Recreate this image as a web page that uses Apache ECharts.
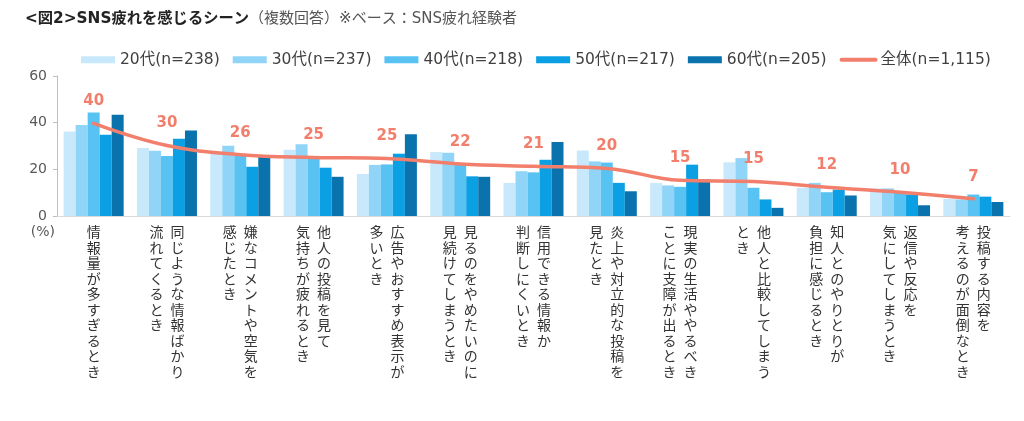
<!DOCTYPE html>
<html>
<head>
<meta charset="utf-8">
<script src="https://cdn.jsdelivr.net/npm/echarts@6/dist/echarts.min.js"></script>
<style>
  html, body { margin: 0; padding: 0; background: #fff; }
  #chart { width: 1024px; height: 421px; }
</style>
</head>
<body>
<div id="chart"></div>
<script>
// カテゴリ（\n で縦書きの列を区切る。最初の列が右側）
const categories = [
  "情報量が多すぎるとき",
  "同じような情報ばかり\n流れてくるとき",
  "嫌なコメントや空気を\n感じたとき",
  "他人の投稿を見て\n気持ちが疲れるとき",
  "広告やおすすめ表示が\n多いとき",
  "見るのをやめたいのに\n見続けてしまうとき",
  "信用できる情報か\n判断しにくいとき",
  "炎上や対立的な投稿を\n見たとき",
  "現実の生活ややるべき\nことに支障が出るとき",
  "他人と比較してしまう\nとき",
  "知人とのやりとりが\n負担に感じるとき",
  "返信や反応を\n気にしてしまうとき",
  "投稿する内容を\n考えるのが面倒なとき",
];

const seriesNames = ["20代(n=238)", "30代(n=237)", "40代(n=218)", "50代(n=217)", "60代(n=205)"];
const totalName = "全体(n=1,115)";

const age20 = [36.2, 29.1, 27.0, 28.4, 18.0, 27.4, 14.2, 28.1, 14.2, 23.0, 12.1, 11.8, 7.4];
const age30 = [39.0, 28.0, 30.1, 30.8, 21.9, 27.1, 19.2, 23.4, 13.1, 24.8, 14.2, 11.8, 7.1];
const age40 = [44.4, 25.7, 25.8, 25.3, 22.1, 22.4, 18.7, 22.9, 12.5, 12.1, 10.2, 9.9, 9.2];
const age50 = [34.8, 33.1, 21.1, 20.7, 26.7, 17.0, 24.1, 14.2, 22.0, 7.1, 11.3, 9.2, 8.3];
const age60 = [43.4, 36.6, 26.1, 16.8, 35.0, 16.8, 31.7, 10.6, 15.6, 3.5, 8.8, 4.6, 6.0];
const total = [39.7, 30.2, 26.3, 25.1, 24.6, 22.3, 21.3, 20.4, 15.3, 14.8, 12.3, 10.2, 7.4];

const yTicks = [0, 20, 40, 60];

const barColors = ["#c8e9fb", "#90d4f7", "#58c3f3", "#0ba0e4", "#0a72ad"];
const lineColor = "#f27e6c";

// 縦書き風に1文字ずつ改行し、複数列は右から左へ並べる
function verticalLabel(value) {
  const cols = value.split("\n").reverse(); // 左の列から順に
  const rows = Math.max(...cols.map((c) => c.length));
  const lines = [];
  for (let i = 0; i < rows; i++) {
    lines.push(cols.map((c) => c[i] || "\u3000").join("\u2002"));
  }
  return lines.join("\n");
}

const chart = echarts.init(document.getElementById("chart"));

const bars = [age20, age30, age40, age50, age60].map((data, i) => ({
  name: seriesNames[i],
  type: "bar",
  barWidth: 12,
  barGap: "0%",
  itemStyle: { color: barColors[i] },
  data: data,
}));

chart.setOption({
  animation: false,
  title: {
    left: 20,
    top: 6,
    text: "{b|<図2>SNS疲れを感じるシーン}{n|（複数回答）※ベース：SNS疲れ経験者}",
    textStyle: {
      rich: {
        b: { fontSize: 15.3, fontWeight: "bold", color: "#222", fontFamily: "DejaVu Sans, Noto Sans CJK JP" },
        n: { fontSize: 15, fontWeight: "normal", color: "#555", fontFamily: "DejaVu Sans, Noto Sans CJK JP" },
      },
    },
  },
  legend: {
    left: 76,
    top: 47,
    itemWidth: 34,
    itemHeight: 7,
    itemGap: 13,
    textStyle: { fontSize: 15.5, color: "#404040", fontFamily: "DejaVu Sans, Noto Sans CJK JP" },
    data: seriesNames
      .map((n) => ({ name: n, icon: "rect" }))
      .concat([{ name: totalName, itemStyle: { opacity: 0 }, lineStyle: { width: 4 } }]),
  },
  grid: {
    left: 57,
    right: 14,
    top: 76,
    bottom: 205,
  },
  xAxis: {
    type: "category",
    data: categories,
    axisLine: { lineStyle: { color: "#d9d9d9" } },
    axisTick: { show: false },
    axisLabel: {
      interval: 0,
      margin: 8,
      fontSize: 14,
      lineHeight: 15.5,
      color: "#333",
      fontFamily: "Noto Sans CJK JP",
      formatter: verticalLabel,
    },
  },
  yAxis: {
    type: "value",
    min: yTicks[0],
    max: yTicks[yTicks.length - 1],
    interval: 20,
    name: "(%)",
    nameLocation: "start",
    nameGap: 16,
    nameTextStyle: { align: "right", verticalAlign: "middle", color: "#595959", fontSize: 14, fontFamily: "DejaVu Sans", padding: [0, 2, 0, 0] },
    axisLine: { show: true, lineStyle: { color: "#bfbfbf" } },
    axisTick: { show: true, length: 4, lineStyle: { color: "#bfbfbf" } },
    splitLine: { show: false },
    axisLabel: { fontSize: 14, color: "#595959", fontFamily: "DejaVu Sans", margin: 10 },
  },
  series: bars.concat([
    {
      name: totalName,
      type: "line",
      smooth: 0.4,
      symbol: "circle",
      symbolSize: 1,
      z: 5,
      lineStyle: { color: lineColor, width: 3.5, cap: "round" },
      itemStyle: { color: lineColor },
      label: {
        show: true,
        position: "top",
        distance: 14,
        color: lineColor,
        fontSize: 15,
        fontWeight: "bold",
        fontFamily: "DejaVu Sans",
        formatter: (p) => Math.round(p.value),
      },
      data: total,
    },
  ]),
});
</script>
</body>
</html>
